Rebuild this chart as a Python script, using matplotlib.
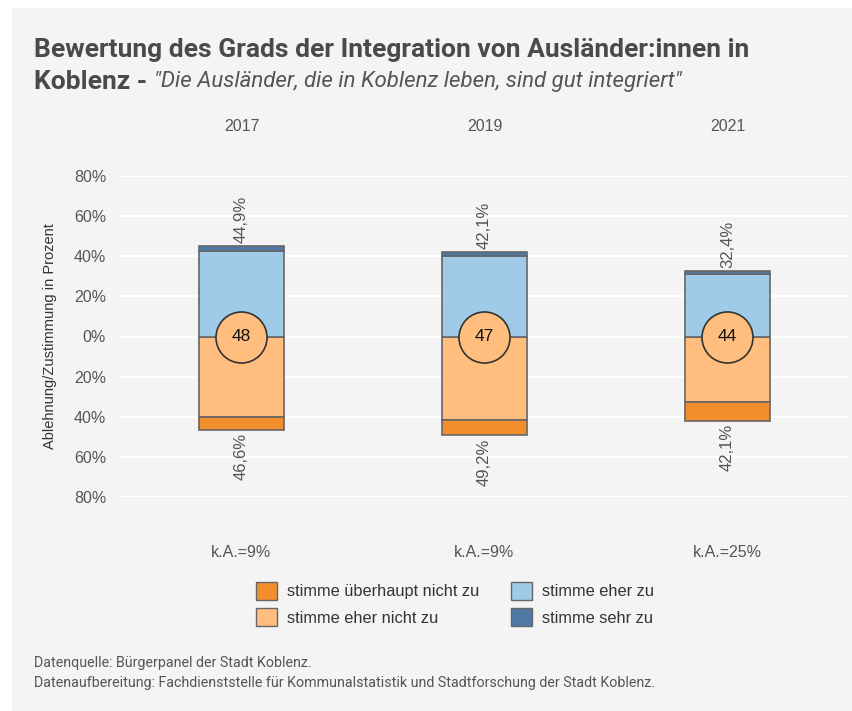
import numpy as np
import matplotlib.pyplot as plt
from matplotlib.patches import Rectangle, Patch

# Daten
years = ['2017', '2019', '2021']
ueberhaupt_nicht = [6.3, 7.4, 9.5]
eher_nicht = [40.3, 41.8, 32.6]
eher_zu = [42.5, 40.0, 31.2]
sehr_zu = [2.4, 2.1, 1.2]
label_pos = ['44,9%', '42,1%', '32,4%']
label_neg = ['46,6%', '49,2%', '42,1%']
index_vals = [48, 47, 44]
keine_angabe = ['k.A.=9%', 'k.A.=9%', 'k.A.=25%']
yticks = [-80, -60, -40, -20, 0, 20, 40, 60, 80]

c_dark_or = '#f28e2b'
c_light_or = '#ffbe7d'
c_light_bl = '#a0cbe8'
c_dark_bl = '#4e79a7'
edge = '#666666'
txt = '#555555'

plt.rcParams['font.family'] = ['Liberation Sans', 'DejaVu Sans']
narrow = ['Roboto', 'DejaVu Sans']

W, H = 853, 711
fig = plt.figure(figsize=(W / 100, H / 100), dpi=100)
fig.patch.set_facecolor('white')
fig.patches.append(Rectangle((12 / W, 0), 1, 1 - 8 / H, transform=fig.transFigure,
                             facecolor='#f4f4f4', edgecolor='none', zorder=-10))

ax = fig.add_axes([120 / W, 1 - 497 / H, (849 - 120) / W, (497 - 176) / H])
ax.set_facecolor('none')
for s in ax.spines.values():
    s.set_visible(False)

x = np.arange(len(years))
w = 0.35
ueb = np.array(ueberhaupt_nicht)
en = np.array(eher_nicht)
ez = np.array(eher_zu)
sz = np.array(sehr_zu)

ax.bar(x, -en, w, color=c_light_or, edgecolor=edge, linewidth=1.2, zorder=2)
ax.bar(x, -ueb, w, bottom=-en, color=c_dark_or, edgecolor=edge, linewidth=1.2, zorder=2)
ax.bar(x, ez, w, color=c_light_bl, edgecolor=edge, linewidth=1.2, zorder=2)
ax.bar(x, sz, w, bottom=ez, color=c_dark_bl, edgecolor=edge, linewidth=1.2, zorder=2)

ax.scatter(x, np.zeros(len(x)), s=1350, color=c_light_or, edgecolor='#333333',
           linewidth=1.2, zorder=3)
for i in range(len(x)):
    ax.text(x[i], 0, str(index_vals[i]), ha='center', va='center', fontsize=12.5,
            color='#111111', zorder=4)
    ax.text(x[i], ez[i] + sz[i] + 1.5, label_pos[i], rotation=90, ha='center',
            va='bottom', fontsize=12, color=txt)
    ax.text(x[i], -(en[i] + ueb[i]) - 1.5, label_neg[i], rotation=90, ha='center',
            va='top', fontsize=12, color=txt)
    ax.text(x[i], -107.5, keine_angabe[i], ha='center', va='center', fontsize=11.5,
            color=txt)

ax.set_xlim(-0.5, 2.5)
ax.set_ylim(-80, 80)
ax.set_yticks(yticks)
ax.set_yticklabels([f'{abs(v)}%' for v in yticks], fontsize=11.5, color=txt)
ax.tick_params(axis='y', length=0, pad=10)
ax.yaxis.grid(True, color='white', linewidth=1.5, zorder=0)
ax.set_axisbelow(True)
ax.xaxis.tick_top()
ax.set_xticks(x)
ax.set_xticklabels(years, fontsize=11.5, color=txt)
ax.tick_params(axis='x', length=0, pad=30)
ax.set_ylabel('Ablehnung/Zustimmung in Prozent', fontsize=10.5, color='#333333',
              labelpad=12)

# Titel
fig.text(34 / W, 1 - 50 / H, 'Bewertung des Grads der Integration von Ausländer:innen in',
         fontsize=19, fontweight='bold', color='#4a4a4a', family=narrow, va='center')
t2 = fig.text(34 / W, 1 - 82 / H, 'Koblenz - ', fontsize=19, fontweight='bold',
              color='#4a4a4a', family=narrow, va='center')
fig.canvas.draw()
bb = t2.get_window_extent()
fig.text(bb.x1 / W, 1 - 82 / H, '"Die Ausländer, die in Koblenz leben, sind gut integriert"',
         fontsize=16, style='italic', color='#555555', family=narrow, va='center')

# Legende
handles = [Patch(facecolor=c_dark_or, edgecolor=edge, label='stimme überhaupt nicht zu'),
           Patch(facecolor=c_light_or, edgecolor=edge, label='stimme eher nicht zu'),
           Patch(facecolor=c_light_bl, edgecolor=edge, label='stimme eher zu'),
           Patch(facecolor=c_dark_bl, edgecolor=edge, label='stimme sehr zu')]
leg = fig.legend(handles=handles, ncol=2, loc='center', bbox_to_anchor=(455 / W, 1 - 604 / H),
                 frameon=False, fontsize=11.8, handlelength=1.3, handleheight=1.3,
                 columnspacing=1.9, labelspacing=0.5, handletextpad=0.6)
for t in leg.get_texts():
    t.set_color('#333333')

# Quelle
fig.text(34 / W, 1 - 663 / H, 'Datenquelle: Bürgerpanel der Stadt Koblenz.', fontsize=10.3,
         color=txt, family=narrow, va='center')
fig.text(34 / W, 1 - 683 / H,
         'Datenaufbereitung: Fachdienststelle für Kommunalstatistik und Stadtforschung der Stadt Koblenz.',
         fontsize=10.3, color=txt, family=narrow, va='center')

fig.savefig('out.png', dpi=100, facecolor=fig.get_facecolor())
